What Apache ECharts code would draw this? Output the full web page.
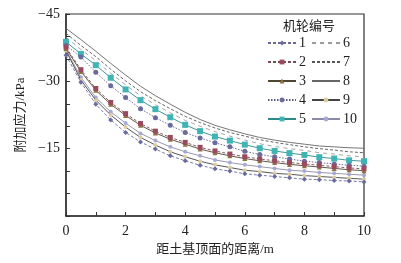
<!DOCTYPE html>
<html><head><meta charset="utf-8">
<script src="https://cdn.jsdelivr.net/npm/echarts@6/dist/echarts.min.js"></script>
<style>html,body{margin:0;padding:0;background:#fff}#c{width:401px;height:263px}</style>
</head><body><div id="c"></div>
<script>
const xValues = [0,0.5,1,1.5,2,2.5,3,3.5,4,4.5,5,5.5,6,6.5,7,7.5,8,8.5,9,9.5,10];
const seriesNames = ['1','2','3','4','5','6','7','8','9','10'];
const s1 = [-35.8,-29.8,-24.9,-21.4,-18.6,-16.5,-14.9,-13.4,-12.3,-11.3,-10.5,-10.0,-9.4,-9.1,-8.8,-8.5,-8.2,-8.1,-7.9,-7.8,-7.6];
const s2 = [-37.6,-32.6,-28.4,-25.3,-22.8,-20.6,-18.9,-17.5,-16.4,-15.3,-14.5,-13.8,-13.2,-12.7,-12.3,-11.9,-11.6,-11.3,-11.0,-10.7,-10.5];
const s3 = [-37.3,-32.2,-28.0,-24.9,-22.4,-20.2,-18.5,-17.1,-16.0,-14.9,-14.1,-13.4,-12.8,-12.3,-11.9,-11.5,-11.2,-10.9,-10.6,-10.3,-10.1];
const s4 = [-38.0,-35.4,-32.0,-29.0,-26.4,-23.9,-21.9,-20.2,-18.6,-17.4,-16.3,-15.4,-14.4,-13.7,-13.2,-12.7,-12.2,-11.9,-11.6,-11.3,-11.1];
const s5 = [-38.8,-36.1,-33.6,-30.8,-28.2,-25.8,-23.8,-22.0,-20.3,-18.9,-17.7,-16.8,-15.9,-15.1,-14.5,-14.0,-13.6,-13.1,-12.8,-12.4,-12.2];
const s6 = [-39.8,-37.1,-34.6,-31.8,-29.2,-26.8,-24.8,-23.0,-21.3,-20.0,-18.8,-17.8,-16.9,-16.1,-15.5,-15.0,-14.6,-14.1,-13.8,-13.4,-13.2];
const s7 = [-40.7,-38.0,-35.5,-32.7,-30.1,-27.7,-25.7,-23.9,-22.2,-20.8,-19.6,-18.6,-17.8,-17.0,-16.4,-15.9,-15.4,-15.0,-14.7,-14.3,-14.1];
const s8 = [-41.8,-39.3,-36.7,-34.0,-31.4,-28.9,-26.8,-24.9,-23.1,-21.5,-20.2,-19.2,-18.3,-17.5,-16.9,-16.4,-16.0,-15.6,-15.4,-15.2,-15.1];
const s9 = [-36.8,-30.3,-25.8,-22.5,-19.8,-17.5,-15.8,-14.3,-13.2,-12.2,-11.4,-10.8,-10.2,-9.9,-9.5,-9.3,-9.0,-8.8,-8.6,-8.4,-8.2];
const s10 = [-37.0,-30.9,-26.4,-23.2,-20.7,-18.4,-16.8,-15.4,-14.3,-13.4,-12.5,-11.9,-11.4,-11.0,-10.6,-10.2,-10.0,-9.7,-9.5,-9.3,-9.1];
const allValues = [s1,s2,s3,s4,s5,s6,s7,s8,s9,s10];
const yLabelValues = [-45,-30,-15];
const xLabelValues = [0,2,4,6,8,10];
const legendTitle = '机轮编号';
const xName = '距土基顶面的距离/m';
const yName = '附加应力/kPa';

const styles = [
  {line:'#6a6a98', type:[3,2], sym:'diamond', size:5, fill:'#6a6aa0'},
  {line:'#7a4a55', type:[3,2], sym:'rect', size:5, fill:'#9a4a5c'},
  {line:'#4e4630', type:'solid', sym:'triangle', size:5, fill:'#8a7440'},
  {line:'#5a5a88', type:[1.5,1.5], sym:'circle', size:5, fill:'#6a6a9c'},
  {line:'#2e8a8a', type:'solid', sym:'rect', size:6, fill:'#3fb4b4'},
  {line:'#9a9a9a', type:[4,4], sym:'none', size:0, fill:'#999'},
  {line:'#555555', type:[3,2], sym:'none', size:0, fill:'#555'},
  {line:'#666666', type:'solid', sym:'none', size:0, fill:'#666'},
  {line:'#444444', type:'solid', sym:'circle', size:4, fill:'#dccca4'},
  {line:'#8a8aa6', type:'solid', sym:'circle', size:4, fill:'#a8a8d4'}
];
const FONT = '"Liberation Serif","Noto Sans CJK SC",serif';
const chart = echarts.init(document.getElementById('c'), null, {renderer:'canvas'});
const series = seriesNames.map((n,i)=>({
  name:n, type:'line',
  data: xValues.map((x,j)=>[x, allValues[i][j]]),
  symbol: styles[i].sym === 'none' ? 'circle' : styles[i].sym,
  symbolSize: styles[i].size,
  showSymbol: styles[i].sym !== 'none',
  lineStyle:{color:styles[i].line, width:0.9, type:styles[i].type},
  itemStyle:{color:styles[i].fill, borderWidth:0},
  emphasis:{disabled:true}, animation:false, z: 10-i
}));
const legendData = seriesNames.map((n,i)=> styles[i].sym === 'none'
  ? {name:n, itemStyle:{opacity:0}}
  : {name:n});
chart.setOption({
  backgroundColor:'#fff',
  animation:false,
  grid:{left:66, right:37, top:14, bottom:47, show:true, borderColor:'#333', borderWidth:1.2, backgroundColor:'transparent'},
  xAxis:{type:'value', min:0, max:10, interval:1,
    name:xName, nameLocation:'middle', nameGap:22,
    nameTextStyle:{fontFamily:FONT, fontSize:13, color:'#222'},
    axisLine:{lineStyle:{color:'#333', width:1.5}},
    axisTick:{inside:true, length:4, lineStyle:{color:'#333'}},
    splitLine:{show:false},
    axisLabel:{fontFamily:FONT, fontSize:14, color:'#222', margin:8,
      formatter:v=> xLabelValues.indexOf(v)>=0 ? String(v) : ''}
  },
  yAxis:{type:'value', min:-45, max:0, interval:5, inverse:true,
    name:yName, nameLocation:'middle', nameGap:38, nameRotate:90,
    nameTextStyle:{fontFamily:FONT, fontSize:13, color:'#222'},
    axisLine:{lineStyle:{color:'#333', width:1.5}},
    axisTick:{inside:true, length:4, lineStyle:{color:'#333'}},
    splitLine:{show:false},
    axisLabel:{fontFamily:FONT, fontSize:14, color:'#222', margin:6,
      formatter:v=> yLabelValues.indexOf(v)>=0 ? String(v).replace('-','\u2212') : ''}
  },
  legend:{orient:'vertical', left:262, top:31, height:102,
    itemWidth:28, itemHeight:6, itemGap:5,
    textStyle:{fontFamily:FONT, fontSize:14, color:'#222', width:15, padding:[0,0,0,-2]},
    data:legendData
  },
  graphic:[{type:'text', left:283, top:20, style:{text:legendTitle, font:'13px '+FONT, fill:'#222'}}],
  series:series
});
</script></body></html>
